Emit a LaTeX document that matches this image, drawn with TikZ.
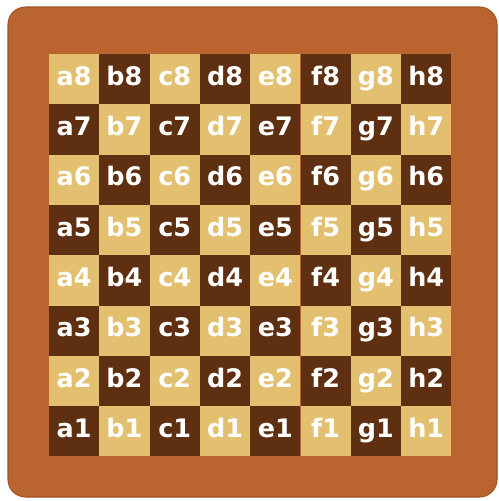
\documentclass[tikz,border=0pt]{standalone}
\usepackage{fontspec}
\setmainfont{DejaVu Sans}
\definecolor{woodframe}{RGB}{186,100,48}
\definecolor{woodedge}{RGB}{160,84,38}
\definecolor{lightsq}{RGB}{226,192,112}
\definecolor{darksq}{RGB}{94,47,17}
\begin{document}
\begin{tikzpicture}[
    x=0.02cm, y=-0.02cm,
    square/.style={rectangle, minimum size=1.006cm, inner sep=0pt, text=white,
        text height=1.55ex, text depth=0.25ex,
        font=\fontsize{14.5}{15}\selectfont\bfseries},
    lightbox/.style={square, fill=lightsq},
    darkbox/.style={square, fill=darksq}
]
\useasboundingbox (0,0) rectangle (498,501);

% Wooden frame
\fill[white] (0,0) rectangle (498,501);
\draw[woodedge, fill=woodframe, rounded corners=10, line width=0.6pt] (8,7) rectangle (497,497);

% Squares
\foreach \f [count=\i] in {a,b,c,d,e,f,g,h} {
  \foreach \r in {1,...,8} {
    \pgfmathtruncatemacro\p{mod(\i+\r,2)}
    \ifnum\p=0 \def\sq{darkbox}\else\def\sq{lightbox}\fi
    \node[\sq] (\f\r) at ({49+50.3*(\i-0.5)}, {54+50.3*(8.5-\r)}) {\f\r};
  }
}
\end{tikzpicture}
\end{document}
